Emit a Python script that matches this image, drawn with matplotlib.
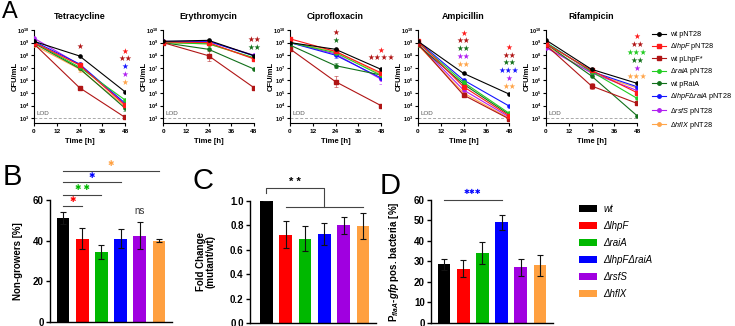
import numpy as np
import matplotlib
matplotlib.use('Agg')
import matplotlib.pyplot as plt
from matplotlib.lines import Line2D
from matplotlib.patches import Patch

plt.rcParams['font.family'] = ['Liberation Sans', 'DejaVu Sans']
plt.rcParams['mathtext.fontset'] = 'custom'
plt.rcParams['mathtext.rm'] = 'Liberation Sans'
plt.rcParams['mathtext.it'] = 'Liberation Sans:italic'
plt.rcParams['mathtext.bf'] = 'Liberation Sans:bold'
plt.rcParams['mathtext.bfit'] = 'Liberation Sans:italic:bold'

# ---------------- data: panel A (log10 CFU/mL at 0, 24, 48 h) ----------------
times = [0, 24, 48]
antibiotics = ['Tetracycline', 'Erythromycin', 'Ciprofloxacin', 'Ampicillin', 'Rifampicin']
strains = ['wt pNT28', r'$\Delta\it{lhpF}$ pNT28', 'wt pLhpF*', r'$\Delta\it{raiA}$ pNT28',
           'wt pRaiA', r'$\Delta\it{lhpF}\Delta\it{raiA}$ pNT28', r'$\Delta\it{rsfS}$ pNT28',
           r'$\Delta\it{hflX}$ pNT28']
strain_colors = ['#000000', '#FF1A1A', '#B01515', '#22CC22', '#11701A', '#1515FF', '#B020F0', '#FFA54A']
strain_markers = ['o', 's', 's', 'o', 'o', 'o', 'o', 'o']

tetracycline = [[9.1, 7.94, 5.1], [9.0, 7.22, 4.05], [8.9, 5.42, 3.07], [9.0, 7.05, 4.45],
                [8.95, 6.95, 3.8], [9.1, 7.3, 4.2], [9.35, 7.25, 4.1], [8.8, 6.9, 3.95]]
erythromycin = [[9.1, 9.18, 7.96], [9.05, 9.0, 7.7], [9.0, 7.96, 5.42], [9.0, 8.9, 7.8],
                [9.0, 8.47, 6.9], [9.1, 9.1, 7.95], [9.05, 9.1, 8.0], [9.0, 8.9, 7.75]]
ciprofloxacin = [[9.0, 8.47, 6.88], [9.3, 8.3, 6.6], [8.5, 5.9, 4.0], [9.0, 8.2, 6.4],
                 [8.8, 7.17, 6.43], [9.0, 8.0, 6.2], [9.0, 8.1, 6.1], [9.0, 8.3, 6.5]]
ampicillin = [[9.1, 6.56, 4.92], [9.1, 5.5, 3.2], [8.9, 4.84, 2.95], [9.0, 5.85, 3.4],
              [8.8, 5.7, 3.3], [9.1, 6.03, 3.97], [8.9, 5.24, 3.1], [8.8, 5.0, 3.0]]
rifampicin = [[9.2, 6.88, 5.77], [8.9, 6.8, 5.03], [8.8, 5.56, 4.18], [9.0, 6.7, 4.58],
              [8.9, 6.35, 3.2], [9.0, 6.7, 5.5], [8.6, 6.6, 5.2], [8.7, 6.6, 5.4]]
cfu = [tetracycline, erythromycin, ciprofloxacin, ampicillin, rifampicin]

# (antibiotic, strain, time index, error in log10)
cfu_err = [(0, 2, 1, 0.15), (0, 7, 1, 0.2), (0, 4, 2, 0.2),
           (1, 2, 1, 0.4), (1, 2, 2, 0.15),
           (2, 2, 1, 0.45), (2, 6, 2, 0.4), (2, 5, 1, 0.25), (2, 4, 1, 0.2),
           (4, 2, 1, 0.25), (4, 6, 2, 0.25)]

# significance stars: (antibiotic, time, top log10 position, [(strain, n stars), ...])
cfu_stars = [(0, 24, 8.6, [(2, 1)]),
             (0, 48, 8.25, [(1, 1), (2, 2), (5, 1), (6, 1), (7, 1)]),
             (1, 48, 9.15, [(2, 2), (4, 2)]),
             (2, 24, 9.7, [(2, 1), (4, 1)]),
             (2, 48, 8.33, [(1, 1), (2, 4)]),
             (3, 24, 9.68, [(1, 1), (2, 2), (4, 2), (6, 2), (7, 2)]),
             (3, 48, 8.55, [(1, 1), (2, 2), (4, 2), (5, 3), (6, 1), (7, 2)]),
             (4, 48, 9.37, [(1, 1), (2, 2), (3, 3), (4, 2), (6, 1), (7, 3)])]
lod = 3

# ---------------- data: panels B-D ----------------
groups = ['wt', 'ΔlhpF', 'ΔraiA', 'ΔlhpFΔraiA', 'ΔrsfS', 'ΔhflX']
group_colors = ['#000000', '#FF0000', '#00B800', '#0000FF', '#A000E0', '#FFA040']
nongrowers = [51, 41, 34.5, 41, 42.5, 40]
nongrowers_err = [3, 5, 3.5, 4.5, 6.5, 0.8]
fold_change = [1.0, 0.72, 0.69, 0.73, 0.80, 0.795]
fold_change_err = [0, 0.11, 0.105, 0.09, 0.07, 0.105]
flaA_pos = [28.5, 26.5, 34, 49, 27, 28]
flaA_pos_err = [2.5, 4, 5.5, 3.5, 4, 5]
# (compared group, bracket height, stars)
nongrowers_sig = [(1, 57, '✱'), (2, 62.7, '✱ ✱'), (3, 68.8, '✱'), (5, 74.4, '✱')]

W, H = 735, 326
def px(l, t, r, b):
    return [l / W, 1 - b / H, (r - l) / W, (b - t) / H]

fig = plt.figure(figsize=(W / 100, H / 100), dpi=100)

def style_axes(ax, lw=0.9):
    for s in ['top', 'right']:
        ax.spines[s].set_visible(False)
    for s in ['left', 'bottom']:
        ax.spines[s].set_linewidth(lw)
    ax.tick_params(direction='out', width=lw, length=2.5, pad=1.5)

# ---------------- panel A ----------------
lefts = [34, 163, 290, 418, 546]
for i, name in enumerate(antibiotics):
    ax = fig.add_axes(px(lefts[i], 30, lefts[i] + 91, 123))
    style_axes(ax, 0.8)
    ax.set_yscale('log')
    for j in reversed(range(len(strains))):
        ax.plot(times, 10 ** np.array(cfu[i][j]), '-', marker=strain_markers[j], color=strain_colors[j],
                ms=2.3, lw=0.8, label=strains[j], zorder=3 + (8 - j) * 0.1)
    for (a, s, t, e) in cfu_err:
        if a != i:
            continue
        v = cfu[i][s][t]
        ax.errorbar(times[t], 10 ** v, yerr=[[10 ** v - 10 ** (v - e)], [10 ** (v + e) - 10 ** v]],
                    color=strain_colors[s], alpha=0.5, elinewidth=0.7, capsize=1.5, capthick=0.7, zorder=2)
    for (a, t, ytop, items) in cfu_stars:
        if a != i:
            continue
        for k, (s, n) in enumerate(items):
            ax.text(t, 10 ** (ytop - 0.62 * k), '★' * n, color=strain_colors[s], fontsize=5.5,
                    ha='center', va='center', clip_on=False)
    ax.axhline(10 ** lod, color='#aaaaaa', lw=0.7, ls=(0, (3, 2)), zorder=1)
    ax.text(1.2, 10 ** (lod + 0.15), 'LOD', fontsize=4.5, color='#555555', ha='left', va='bottom')
    ax.set_xlim(0, 48)
    ax.set_ylim(10 ** 2.62, 1e10)
    ax.set_xticks([0, 12, 24, 36, 48])
    ax.set_xticklabels(['0', '12', '24', '36', '48'], fontsize=4.6, fontweight='bold')
    ax.set_yticks([10.0 ** e for e in range(3, 11)])
    ax.set_yticklabels([r'$\mathbf{10^{%d}}$' % e for e in range(3, 11)], fontsize=4.0)
    ax.tick_params(axis='y', pad=1)
    ax.minorticks_off()
    ax.set_xlabel('Time [h]', fontsize=5.5, fontweight='bold', labelpad=3)
    ax.set_ylabel('CFU/mL', fontsize=5.5, fontweight='bold')
    ax.yaxis.set_label_coords(-15.5 / 91, 0.5)
    ax.set_title(name, fontsize=6.4, fontweight='bold', pad=8)

handles = [Line2D([0], [0], color=strain_colors[j], marker=strain_markers[j], ms=2.5, lw=0.8) for j in range(len(strains))]
fig.legend(handles, strains, loc='upper left', bbox_to_anchor=(652 / W, 1 - 31 / H), frameon=False,
           fontsize=5.2, handlelength=2.0, handletextpad=0.5, labelspacing=0.47, borderaxespad=0, borderpad=0)

fig.text(2 / W, 1 - 1 / H, 'A', fontsize=17, ha='left', va='top')

# ---------------- panels B-D ----------------
xb = np.arange(len(groups))

def bar_panel(box, vals, errs, ylim, yticks, fmt):
    ax = fig.add_axes(box)
    style_axes(ax, 1.0)
    ax.bar(xb, vals, width=0.66, color=group_colors, zorder=2)
    ax.errorbar(xb, vals, yerr=errs, fmt='none', ecolor='#111111', elinewidth=0.8, capsize=2.3, capthick=0.8, zorder=3)
    ax.set_ylim(*ylim)
    ax.set_yticks(yticks)
    ax.set_yticklabels([fmt % v for v in yticks], fontsize=7, fontweight='bold')
    ax.set_xticks([])
    ax.tick_params(axis='y', length=3)
    return ax

# B
axB = bar_panel(px(50, 200, 172, 322), nongrowers, nongrowers_err, (0, 60), [0, 20, 40, 60], '%d')
axB.set_xlim(-0.68, 5.68)
axB.set_ylabel('Non-growers [%]', fontsize=7, fontweight='bold')
axB.yaxis.set_label_coords(-27 / 122, 0.5)
for (g, yl, st) in nongrowers_sig:
    c = group_colors[g]
    axB.plot([0, g], [yl, yl], color='#444444', lw=0.8, clip_on=False)
    axB.text(g / 2, yl + 3.0, st, color=c, fontsize=5.5, ha='center', va='center', clip_on=False)
axB.text(4, 52, 'ns', fontsize=7, color='#333333', ha='center', va='bottom')
fig.text(3 / W, 1 - 163 / H, 'B', fontsize=21, ha='left', va='top')

# C
axC = bar_panel(px(250, 200.7, 376, 323), fold_change, fold_change_err, (0, 1.0),
                [0, 0.2, 0.4, 0.6, 0.8, 1.0], '%.1f')
axC.set_xlim(-0.85, 5.68)
axC.set_ylabel('Fold Change\n(mutant/wt)', fontsize=7, fontweight='bold', linespacing=1.0)
axC.yaxis.set_label_coords(-34 / 126, 0.5)
axC.plot([0, 0, 3, 3], [1.066, 1.10, 1.10, 0.945], color='#444444', lw=0.8, clip_on=False)
axC.plot([1, 5], [0.945, 0.945], color='#444444', lw=0.8, clip_on=False)
axC.text(1.5, 1.155, '* *', fontsize=8, fontweight='bold', ha='center', va='center', clip_on=False)
fig.text(193 / W, 1 - 167 / H, 'C', fontsize=21, ha='left', va='top')

# D
axD = bar_panel(px(431, 200, 553, 322.7), flaA_pos, flaA_pos_err, (0, 60),
                [0, 10, 20, 30, 40, 50, 60], '%d')
axD.set_xlim(-0.68, 5.68)
axD.set_ylabel(r'P$_{\mathbfit{flaA}}$-$\mathbfit{gfp}$ pos. bacteria [%]', fontsize=7, fontweight='bold')
axD.yaxis.set_label_coords(-30 / 122, 0.5)
axD.plot([0, 3], [60, 60], color='#444444', lw=0.8, clip_on=False)
axD.text(1.5, 63.5, '✱✱✱', color=group_colors[3], fontsize=5, ha='center', va='center', clip_on=False)
fig.text(380 / W, 1 - 172 / H, 'D', fontsize=21, ha='left', va='top')

patches = [Patch(facecolor=c, edgecolor='none') for c in group_colors]
fig.legend(patches, groups, loc='upper left', bbox_to_anchor=(579 / W, 1 - 204 / H), frameon=False,
           prop={'size': 7, 'style': 'italic'}, handlelength=1.9, handleheight=0.6,
           handletextpad=0.6, labelspacing=0.72, borderaxespad=0, borderpad=0)

fig.savefig('out.png', dpi=100)
